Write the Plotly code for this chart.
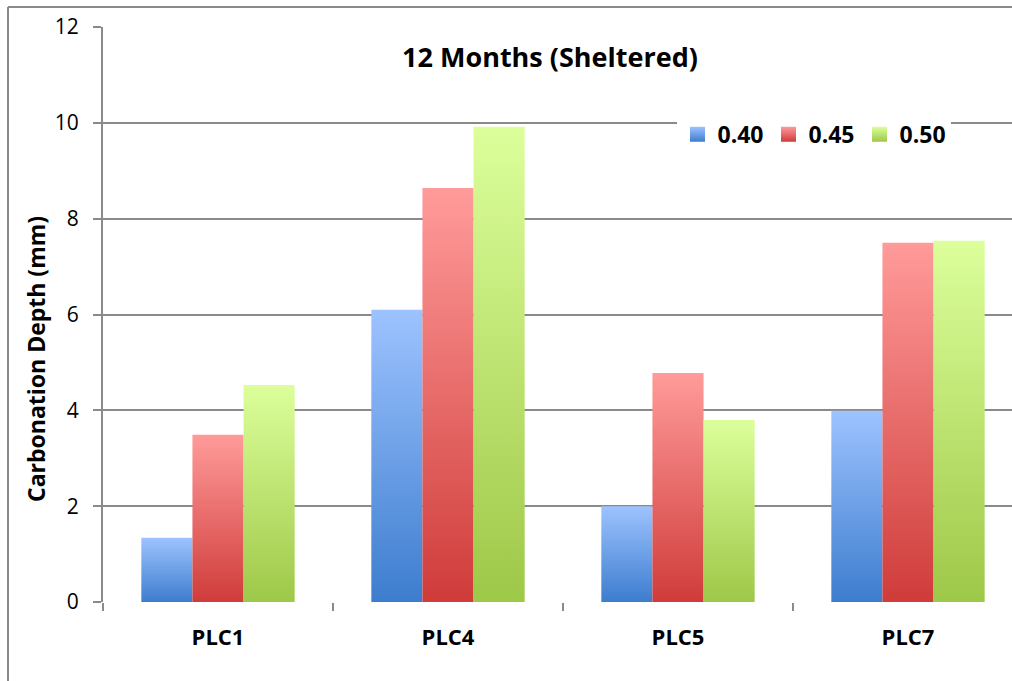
import plotly.graph_objects as go

# Carbonation depth after 12 months, sheltered exposure
categories = ["PLC1", "PLC4", "PLC5", "PLC7"]
series_names = ["0.40", "0.45", "0.50"]
depth_040 = [1.34, 6.10, 2.00, 3.99]
depth_045 = [3.49, 8.64, 4.78, 7.50]
depth_050 = [4.53, 9.92, 3.80, 7.54]
y_ticks = [0, 2, 4, 6, 8, 10, 12]

series_values = [depth_040, depth_045, depth_050]
# (bottom colour, top colour) of each series' vertical gradient
series_gradients = [
    ("#3d7dce", "#9dc3ff"),
    ("#cf3c3a", "#ff9b9a"),
    ("#9ec848", "#dcff9b"),
]

FONT = "Open Sans"
GRID = "#8a8a8a"

n_series = len(series_names)
gap_width = 1.5                      # gap between groups, as a fraction of one bar
bar_w = 1.0 / (n_series + gap_width)

fig = go.Figure()

for s, (name, values, (c_bot, c_top)) in enumerate(zip(series_names, series_values, series_gradients)):
    offset = (s - (n_series - 1) / 2) * bar_w
    for i, v in enumerate(values):
        x0 = i + offset - bar_w / 2
        x1 = i + offset + bar_w / 2
        fig.add_trace(go.Scatter(
            x=[x0, x0, x1, x1, x0],
            y=[0, v, v, 0, 0],
            mode="none",
            fill="toself",
            fillgradient=dict(type="vertical", start=0, stop=v,
                              colorscale=[[0, c_bot], [1, c_top]]),
            showlegend=False,
            hoverinfo="skip",
        ))
    # legend swatch for the series
    fig.add_trace(go.Scatter(
        x=[None], y=[None], mode="markers", name=name,
        marker=dict(symbol="square", size=15, color=c_top,
                    gradient=dict(type="vertical", color=c_bot),
                    line=dict(width=0)),
    ))

fig.update_layout(
    width=1012, height=681,
    margin=dict(l=103, r=0, t=27, b=79),
    paper_bgcolor="white", plot_bgcolor="white",
    font=dict(family=FONT, color="black"),
    title=dict(text="12 Months (Sheltered)", x=(550 - 103) / 909, xref="paper", xanchor="center",
               y=1 - 58 / 681, yref="container", yanchor="middle",
               font=dict(family=FONT, size=27, weight="bold", color="black")),
    legend=dict(orientation="h", x=0.632, y=0.851, xanchor="left", yanchor="top",
                bgcolor="white", font=dict(family=FONT, size=23, weight="bold"),
                itemwidth=30, traceorder="normal"),
    showlegend=True,
)

fig.update_xaxes(
    range=[-0.5, -0.5 + 909 / 230], tickmode="array",
    tickvals=list(range(len(categories))), ticktext=categories,
    ticks="", showgrid=False, zeroline=False,
    showline=False,
    tickfont=dict(family=FONT, size=22, weight="bold"),
    ticklabelstandoff=20,
    minor=dict(tickmode="array", tickvals=[i - 0.5 for i in range(len(categories) + 1)],
               ticks="outside", ticklen=8, tickwidth=2, tickcolor=GRID, showgrid=False),
)
fig.update_yaxes(
    range=[0, 12], tickmode="array", tickvals=y_ticks,
    ticks="outside", ticklen=8, tickwidth=2, tickcolor=GRID,
    showgrid=True, gridcolor=GRID, gridwidth=2,
    zeroline=False, showline=True, linecolor=GRID, linewidth=2,
    tickfont=dict(family=FONT, size=21), ticklabelstandoff=10,
)

# axis title
fig.add_annotation(text="Carbonation Depth (mm)", textangle=-90,
                   xref="paper", yref="paper", x=(36 - 103) / 909, y=1 - (359 - 27) / 575,
                   showarrow=False, xanchor="center", yanchor="middle",
                   font=dict(family=FONT, size=23, weight="bold", color="black"))

# chart-area frame (left and top edges)
fig.add_shape(type="line", xref="paper", yref="paper",
              x0=(8 - 103) / 909, x1=(8 - 103) / 909, y0=-0.2, y1=1 + 20 / 575,
              line=dict(color=GRID, width=2))
fig.add_shape(type="line", xref="paper", yref="paper",
              x0=(8 - 103) / 909, x1=1.01, y0=1 + 20 / 575, y1=1 + 20 / 575,
              line=dict(color=GRID, width=2))

fig.write_html("out.html")
